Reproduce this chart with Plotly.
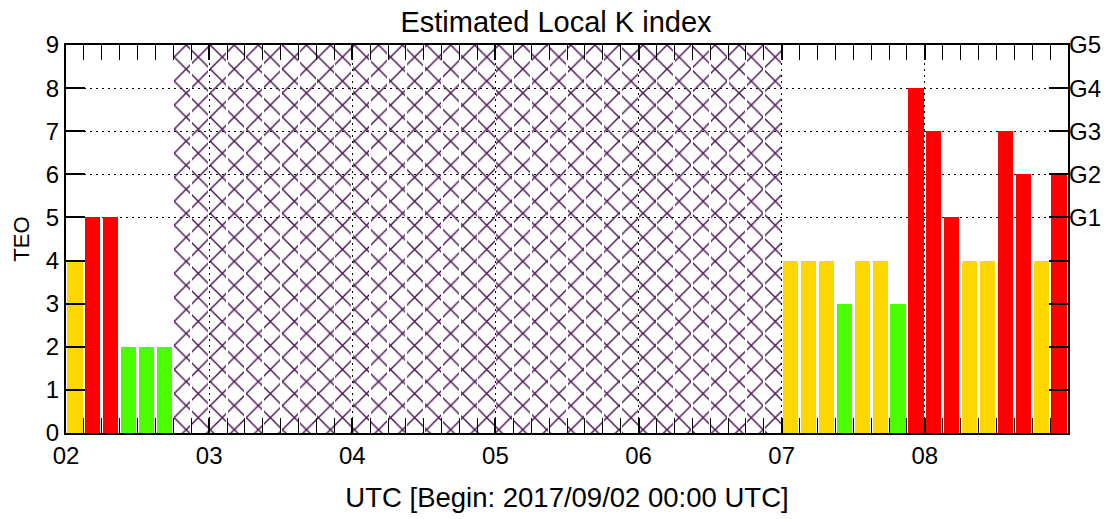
import plotly.graph_objects as go

# 3-hour slots starting 2017/09/02 00:00 UTC (hours since begin)
slot_hours = [3 * i for i in range(56)]
k_values = ([4, 5, 5, 2, 2, 2, None, None]
            + [None] * 32
            + [4, 4, 4, 3, 4, 4, 3, 8]
            + [7, 5, 4, 4, 7, 6, 4, 6])
day_ticks = [0, 24, 48, 72, 96, 120, 144, 168]
day_labels = ["02", "03", "04", "05", "06", "07", "08", ""]
g_levels = [5, 6, 7, 8, 9]
g_labels = ["G1", "G2", "G3", "G4", "G5"]

YELLOW = "#FFD700"
RED = "#FF0000"
GREEN = "#4CFF00"
HATCH = "#4E1559"


def kcolor(k):
    if k < 4:
        return GREEN
    if k == 4:
        return YELLOW
    return RED


xs = [h + 1.5 for h, k in zip(slot_hours, k_values) if k is not None]
ys = [k for k in k_values if k is not None]
cols = [kcolor(k) for k in ys]
mx = [h + 1.5 for h, k in zip(slot_hours, k_values) if k is None]
my = [9 for _ in mx]

FONT = "Liberation Sans"
DOTS = "2px,4px"

fig = go.Figure()
fig.add_trace(go.Bar(
    x=mx, y=my, width=2.7,
    marker=dict(color="rgba(0,0,0,0)", line=dict(width=0),
                pattern=dict(shape="x", fgcolor=HATCH, bgcolor="rgba(0,0,0,0)",
                             size=17, solidity=0.17, fgopacity=1)),
    showlegend=False, hoverinfo="skip"))
fig.add_trace(go.Bar(
    x=xs, y=ys, width=2.55,
    marker=dict(color=cols, line=dict(width=0)),
    showlegend=False))
fig.add_trace(go.Scatter(x=[0], y=[0], yaxis="y2", mode="markers",
                         marker=dict(opacity=0), showlegend=False, hoverinfo="skip"))

fig.update_layout(
    width=1112, height=519,
    margin=dict(l=66, r=44, t=45, b=86),
    paper_bgcolor="white", plot_bgcolor="white",
    bargap=0,
    font=dict(family=FONT, color="black", size=24),
    title=dict(text="Estimated Local K index", x=0.5, xanchor="center",
               y=1 - 22 / 519, yanchor="middle", yref="container",
               font=dict(family=FONT, size=29, color="black")),
    xaxis=dict(range=[0, 168], tickmode="array", tickvals=day_ticks, ticktext=day_labels,
               ticks="inside", ticklen=15, tickwidth=2, tickcolor="black",
               showline=True, linecolor="black", linewidth=2, mirror="allticks",
               showgrid=True, gridcolor="black", griddash=DOTS, gridwidth=1,
               zeroline=False,
               minor=dict(dtick=3, tick0=0, ticks="inside", ticklen=7, tickwidth=1,
                          tickcolor="black", showgrid=False),
               tickfont=dict(size=24),
               title=dict(text="UTC [Begin: 2017/09/02 00:00 UTC]", standoff=20,
                          font=dict(size=27.5))),
    yaxis=dict(range=[0, 9], tickmode="array", tickvals=list(range(10)),
               ticks="inside", ticklen=19, tickwidth=2, tickcolor="black",
               showline=True, linecolor="black", linewidth=2, mirror="allticks",
               showgrid=False, zeroline=False, tickfont=dict(size=24),
               title=dict(text="TEO", standoff=10, font=dict(size=22))),
    yaxis2=dict(range=[0, 9], overlaying="y", side="right", tickmode="array",
                tickvals=g_levels, ticktext=g_labels, ticks="",
                showgrid=True, gridcolor="black", griddash=DOTS, gridwidth=1,
                showline=False, zeroline=False, tickfont=dict(size=24)),
)

fig.write_html("out.html")
